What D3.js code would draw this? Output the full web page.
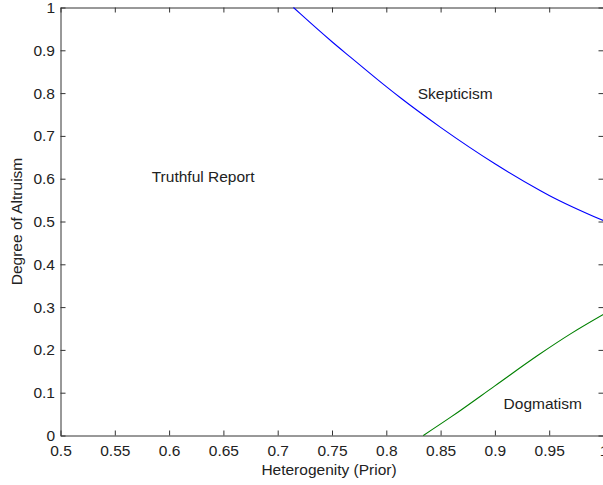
<!DOCTYPE html>
<html>
<head>
<meta charset="utf-8">
<script src="https://cdn.jsdelivr.net/npm/d3@7"></script>
<style>
  body { margin: 0; background: #fff; }
  text { font-family: "Liberation Sans", Arial, sans-serif; fill: #222; }
</style>
</head>
<body>
<div id="vis"></div>
<script>
// tick values
const xTicks = [0.5, 0.55, 0.6, 0.65, 0.7, 0.75, 0.8, 0.85, 0.9, 0.95, 1];
const yTicks = [0, 0.1, 0.2, 0.3, 0.4, 0.5, 0.6, 0.7, 0.8, 0.9, 1];

// boundary curves
const skepX = [0.7145, 0.721, 0.75, 0.767, 0.8, 0.813, 0.85, 0.9, 0.942, 0.95, 1.0];
const skepY = [1.0, 0.985, 0.92, 0.884, 0.815, 0.789, 0.72, 0.635, 0.572, 0.561, 0.502];
const dogX = [0.834, 0.86, 0.9, 0.94, 0.97, 1.0];
const dogY = [0.0, 0.044, 0.116, 0.188, 0.238, 0.283];

// region labels
const regionNames = ["Skepticism", "Truthful Report", "Dogmatism"];
const regionX = [0.829, 0.584, 0.908];
const regionY = [0.8, 0.605, 0.075];

const W = 603, H = 485;
const mLeft = 60.5, mRight = 603.5, mTop = 7.5, mBottom = 435.5;
const fs = 15.5;

const x = d3.scaleLinear().domain([0.5, 1]).range([mLeft, mRight]);
const y = d3.scaleLinear().domain([0, 1]).range([mBottom, mTop]);

const svg = d3.select("#vis").append("svg")
  .attr("width", W)
  .attr("height", H);

const fmt = d => String(+d.toFixed(2));

function styleAxis(g) {
  g.select(".domain").attr("stroke", "#333");
  g.selectAll(".tick line").attr("stroke", "#333");
  g.selectAll("text").attr("font-size", fs).attr("fill", "#222")
    .attr("font-family", "Liberation Sans, Arial, sans-serif");
}

svg.append("g")
  .attr("transform", `translate(0,${mBottom})`)
  .call(d3.axisBottom(x).tickValues(xTicks).tickFormat(fmt).tickSizeInner(-5).tickSizeOuter(0).tickPadding(9))
  .call(styleAxis);

svg.append("g")
  .attr("transform", `translate(0,${mTop})`)
  .call(d3.axisTop(x).tickValues(xTicks).tickFormat("").tickSizeInner(-5).tickSizeOuter(0))
  .call(styleAxis);

svg.append("g")
  .attr("transform", `translate(${mLeft},0)`)
  .call(d3.axisLeft(y).tickValues(yTicks).tickFormat(fmt).tickSizeInner(-5).tickSizeOuter(0).tickPadding(5.5))
  .call(styleAxis);

svg.append("g")
  .attr("transform", `translate(${mRight},0)`)
  .call(d3.axisRight(y).tickValues(yTicks).tickFormat("").tickSizeInner(-5).tickSizeOuter(0))
  .call(styleAxis);

const line = d3.line().curve(d3.curveMonotoneX).x(d => x(d[0])).y(d => y(d[1]));

svg.append("path")
  .datum(d3.zip(skepX, skepY))
  .attr("d", line)
  .attr("fill", "none")
  .attr("stroke", "#0000ff")
  .attr("stroke-width", 1.1);

svg.append("path")
  .datum(d3.zip(dogX, dogY))
  .attr("d", line)
  .attr("fill", "none")
  .attr("stroke", "#008000")
  .attr("stroke-width", 1.1);

svg.selectAll(".region")
  .data(regionNames)
  .enter()
  .append("text")
    .attr("class", "region")
    .attr("x", (d, i) => x(regionX[i]))
    .attr("y", (d, i) => y(regionY[i]))
    .attr("dy", "0.35em")
    .attr("font-size", fs)
    .text(d => d);

svg.append("text")
  .attr("x", (mLeft + mRight) / 2 - 3)
  .attr("y", 475)
  .attr("text-anchor", "middle")
  .attr("font-size", fs)
  .text("Heterogenity (Prior)");

svg.append("text")
  .attr("transform", `translate(22,${(mTop + mBottom) / 2}) rotate(-90)`)
  .attr("text-anchor", "middle")
  .attr("font-size", fs)
  .text("Degree of Altruism");
</script>
</body>
</html>
